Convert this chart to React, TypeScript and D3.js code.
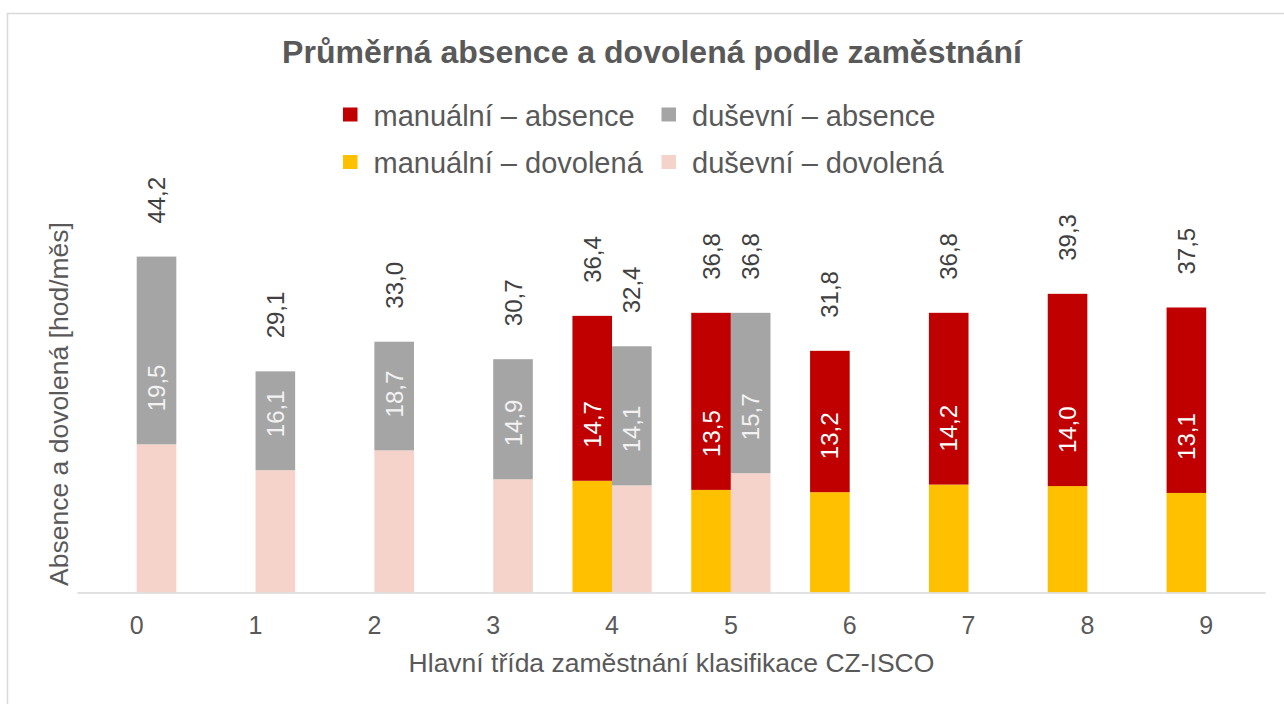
import React from "react";
import * as d3 from "d3";

const categories = ["0", "1", "2", "3", "4", "5", "6", "7", "8", "9"];
// manuální (manual) workers
const manualDovolena: (number | null)[] = [null, null, null, null, 14.7, 13.5, 13.2, 14.2, 14.0, 13.1];
const manualAbsence: (number | null)[] = [null, null, null, null, 21.7, 23.3, 18.6, 22.6, 25.3, 24.4];
// duševní (mental) workers
const dusevniDovolena: (number | null)[] = [19.5, 16.1, 18.7, 14.9, 14.1, 15.7, null, null, null, null];
const dusevniAbsence: (number | null)[] = [24.7, 13.0, 14.3, 15.8, 18.3, 21.1, null, null, null, null];

const legendItems = [
  { label: "manuální – absence", color: "#C00000" },
  { label: "duševní – absence", color: "#A5A5A5" },
  { label: "manuální – dovolená", color: "#FFC000" },
  { label: "duševní – dovolená", color: "#F5D3CA" },
];

const W = 1284;
const H = 704;
const FONT = "'Liberation Sans', Arial, sans-serif";

const fmt = (v: number) => v.toFixed(1).replace(".", ",");

export default function App() {
  const x = d3.scaleBand<string>().domain(categories).range([77.3, 1265.6]).padding(0);
  const y = d3.scaleLinear().domain([0, 50]).range([592.5, 212.5]);
  const bw = x.bandwidth() / 3;

  const groups = [
    { dov: manualDovolena, abs: manualAbsence, offset: -1, cDov: "#FFC000", cAbs: "#C00000", labelFill: "#FFFFFF" },
    { dov: dusevniDovolena, abs: dusevniAbsence, offset: 0, cDov: "#F5D3CA", cAbs: "#A5A5A5", labelFill: "#F2F2F2" },
  ];

  const marks: React.ReactNode[] = [];
  groups.forEach((g, gi) => {
    categories.forEach((c, i) => {
      const dv = g.dov[i];
      const av = g.abs[i];
      if (dv == null || av == null) return;
      const cx = (x(c) as number) + x.bandwidth() / 2;
      const x0 = cx + g.offset * bw;
      const total = dv + av;
      const yB = y(dv);
      const yT = y(total);
      const mid = x0 + bw / 2;
      marks.push(
        <g key={`${gi}-${i}`}>
          <rect x={x0} y={yB} width={bw} height={y(0) - yB} fill={g.cDov} />
          <rect x={x0} y={yT} width={bw} height={yB - yT} fill={g.cAbs} />
          <text
            transform={`translate(${mid + 8.5},${yB - 33}) rotate(-90)`}
            fontSize={24}
            fill={g.labelFill}
            fontFamily={FONT}
          >
            {fmt(dv)}
          </text>
          <text
            transform={`translate(${mid + 8.5},${yT - 33}) rotate(-90)`}
            fontSize={24}
            fill="#404040"
            fontFamily={FONT}
          >
            {fmt(total)}
          </text>
        </g>
      );
    });
  });

  return (
    <svg
      width={W}
      height={H}
      style={{ position: "absolute", left: 0, top: 0, background: "#fff" }}
      fontFamily={FONT}
    >
      <rect x={7.5} y={13.5} width={1300} height={720} fill="#fff" stroke="#D9D9D9" strokeWidth={1.5} />
      <text x={652} y={63} textAnchor="middle" fontSize={32} fontWeight="bold" fill="#595959">
        Průměrná absence a dovolená podle zaměstnání
      </text>
      {legendItems.map((it, i) => {
        const col = i % 2;
        const row = Math.floor(i / 2);
        const sx = col === 0 ? 343 : 661.5;
        const sy = row === 0 ? 107.5 : 155;
        return (
          <g key={it.label}>
            <rect x={sx} y={sy} width={14.5} height={14} fill={it.color} />
            <text x={sx + 30.5} y={sy + 18} fontSize={29} fill="#595959">
              {it.label}
            </text>
          </g>
        );
      })}
      {marks}
      <line x1={77.3} x2={1265.6} y1={593} y2={593} stroke="#D9D9D9" strokeWidth={1.5} />
      {categories.map((c) => (
        <text
          key={c}
          x={(x(c) as number) + x.bandwidth() / 2}
          y={634}
          textAnchor="middle"
          fontSize={25}
          fill="#595959"
        >
          {c}
        </text>
      ))}
      <text x={671.5} y={672} textAnchor="middle" fontSize={26.5} fill="#595959">
        Hlavní třída zaměstnání klasifikace CZ-ISCO
      </text>
      <text
        transform={`translate(68,404) rotate(-90)`}
        textAnchor="middle"
        fontSize={26.5}
        fill="#595959"
      >
        Absence a dovolená [hod/měs]
      </text>
    </svg>
  );
}
